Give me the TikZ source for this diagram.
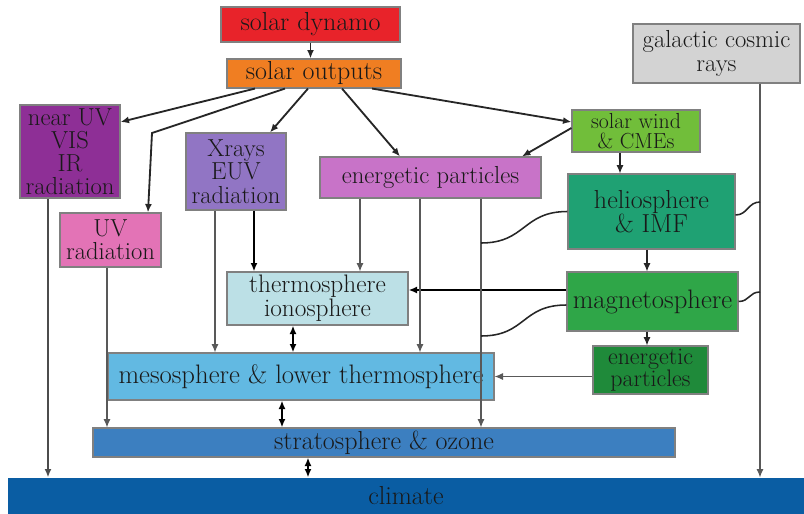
\documentclass[tikz,border=0pt]{standalone}
\usepackage{fontspec}
\usetikzlibrary{arrows.meta}

% box fills
\definecolor{dynamored}{HTML}{E8232A}
\definecolor{outorange}{HTML}{F07E22}
\definecolor{nuvpurple}{HTML}{8E2F96}
\definecolor{uvpink}{HTML}{E373B6}
\definecolor{xraylilac}{HTML}{9175C4}
\definecolor{epmauve}{HTML}{C873C8}
\definecolor{windgreen}{HTML}{71BE3A}
\definecolor{gcrgray}{HTML}{D3D3D3}
\definecolor{heliogreen}{HTML}{1FA173}
\definecolor{thermocyan}{HTML}{BCE0E6}
\definecolor{magnetogreen}{HTML}{2FA648}
\definecolor{epgreen}{HTML}{1F8A3A}
\definecolor{mesoblue}{HTML}{62B9E2}
\definecolor{stratoblue}{HTML}{3C7FC0}
\definecolor{climateblue}{HTML}{0A5DA3}

\begin{document}
\begin{tikzpicture}[x=0.025cm,y=-0.025cm,>={Latex[length=6pt,width=5pt]},
    box/.style={rectangle,draw=black!50,line width=0.8pt,inner sep=0pt,align=center,
      text=black!90,font=\fontsize{18.5}{16}\selectfont},
    lines/.style={font=\fontsize{17.5}{16.5}\selectfont},
    dims/.style 2 args={minimum width=#1*0.025cm,minimum height=#2*0.025cm},
    flow/.style={->,line width=1.3pt,black!85},
    feed/.style={->,line width=0.8pt,black!65},
    heavy/.style={->,line width=1.7pt,black},
    both/.style={<->,line width=1.6pt,black},
    wiggle/.style={line width=1.1pt,black!85}]
    \useasboundingbox (0,0) rectangle (804,514);
    % sun and its outputs
    \node[box,fill=dynamored,dims={179}{35}] (dynamo) at (310.5,24.5) {solar dynamo};
    \node[box,fill=outorange,dims={174}{29}] (outputs) at (314,73.5) {solar outputs};
    \node[box,lines,fill=nuvpurple,dims={100}{93}] (nearuv) at (70,151.5) {near UV\\VIS\\IR\\radiation};
    \node[box,lines,fill=uvpink,dims={101}{54}] (uv) at (110.5,240) {UV\\radiation};
    \node[box,lines,fill=xraylilac,dims={100}{77}] (xrays) at (236,171.5) {Xrays\\EUV\\radiation};
    \node[box,fill=epmauve,dims={221}{41},font=\fontsize{17.5}{16}\selectfont] (eptop) at (430.5,177.5) {energetic particles};
    \node[box,fill=windgreen,dims={128}{42},font=\fontsize{15.5}{14.5}\selectfont] (wind) at (636,131) {solar wind\\\& CMEs};
    \node[box,lines,fill=gcrgray,dims={167}{59}] (gcr) at (716.5,53.5) {galactic cosmic\\rays};
    % near-earth space
    \node[box,lines,fill=heliogreen,dims={167}{75},font=\fontsize{18.5}{17.5}\selectfont] (helio) at (651.5,211.5) {heliosphere\\\& IMF};
    \node[box,fill=magnetogreen,dims={171}{59},font=\fontsize{19}{16}\selectfont] (magneto) at (652.5,301.5) {magnetosphere};
    \node[box,fill=epgreen,dims={115}{48},font=\fontsize{17}{16}\selectfont] (eplow) at (650.5,370) {energetic\\particles};
    % atmosphere layers
    \node[box,fill=thermocyan,dims={181}{53},font=\fontsize{18}{17}\selectfont] (thermo) at (317.5,298.5) {thermosphere\\ionosphere};
    \node[box,fill=mesoblue,dims={386}{47},font=\fontsize{19}{16}\selectfont] (meso) at (301,376.5) {mesosphere \& lower thermosphere};
    \node[box,fill=stratoblue,dims={582}{29}] (strato) at (384,442.5) {stratosphere \& ozone};
    \node[box,fill=climateblue,draw=none,dims={796}{36}] (climate) at (406,496) {climate};

    % taps on the boxes
    \coordinate (uvbend) at (152,133);
    \coordinate (nuvtap) at ([shift={(-22,0)}]nearuv.south);
    \coordinate (uvtap) at ([shift={(-3.5,0)}]uv.south);
    \coordinate (xtapa) at ([shift={(-21,0)}]xrays.south);
    \coordinate (xtapb) at ([shift={(18,0)}]xrays.south);
    \coordinate (eptapa) at ([shift={(-70.5,0)}]eptop.south);
    \coordinate (eptapb) at ([shift={(-10.5,0)}]eptop.south);
    \coordinate (eptapc) at ([shift={(50.5,0)}]eptop.south);
    \coordinate (gcrtap) at ([shift={(43.5,0)}]gcr.south);
    \coordinate (magin) at ([shift={(0,-11.5)}]magneto.west);
    \coordinate (heliojoin) at (481,243);
    \coordinate (magjoin) at (481,336);
    \coordinate (gcrhelio) at (760,202);
    \coordinate (gcrmag) at (760,292);

    % arrows from the sun
    \draw[flow] (dynamo.south) -- (dynamo.south |- outputs.north);
    \draw[flow] ([shift={(-59,0)}]outputs.south) -- ([shift={(0,-29.5)}]nearuv.east);
    \draw[flow] ([shift={(-29,0)}]outputs.south) -- (uvbend) -- ([shift={(37.5,0)}]uv.north);
    \draw[flow] ([shift={(-6,0)}]outputs.south) -- ([shift={(34,0)}]xrays.north);
    \draw[flow] ([shift={(28,0)}]outputs.south) -- ([shift={(-30.5,0)}]eptop.north);
    \draw[flow] ([shift={(58,0)}]outputs.south) -- ([shift={(0,-9)}]wind.west);
    \draw[flow] ([shift={(0,-3)}]wind.west) -- ([shift={(91.5,0)}]eptop.north);
    \draw[feed,black!85] ([shift={(-16,0)}]wind.south) -- ([shift={(-16,0)}]wind.south |- helio.north);
    \draw[feed,black!85] ([shift={(-4.5,0)}]helio.south) -- ([shift={(-4.5,0)}]helio.south |- magneto.north);
    \draw[feed,black!85] ([shift={(-5.5,0)}]magneto.south) -- ([shift={(-5.5,0)}]magneto.south |- eplow.north);
    \draw[heavy] (magin) -- (thermo.east |- magin);
    \draw[feed] (eplow.west |- meso.east) -- (meso.east);

    % down into the atmosphere
    \draw[flow,black!70] (nuvtap) -- (nuvtap |- climate.north);
    \draw[feed] (uvtap) -- (uvtap |- strato.north);
    \draw[feed] (xtapa) -- (xtapa |- meso.north);
    \draw[heavy] (xtapb) -- (xtapb |- thermo.north);
    \draw[feed] (eptapa) -- (eptapa |- thermo.north);
    \draw[feed] (eptapb) -- (eptapb |- meso.north);
    \draw[feed] (eptapc) -- (eptapc |- strato.north);
    \draw[feed] (gcrtap) -- (gcrtap |- climate.north);

    % coupling between layers
    \draw[both] ([shift={(-24.5,0)}]thermo.south) -- ([shift={(-24.5,0)}]thermo.south |- meso.north);
    \draw[both] ([shift={(-19,0)}]meso.south) -- ([shift={(-19,0)}]meso.south |- strato.north);
    \draw[both] ([shift={(-76,0)}]strato.south) -- ([shift={(-76,0)}]strato.south |- climate.north);

    % field links
    \draw[wiggle] (helio.west) .. controls +(-45,0) and +(45,0) .. (heliojoin);
    \draw[wiggle] ([shift={(0,3.5)}]magneto.west) .. controls +(-45,0) and +(45,0) .. (magjoin);
    \draw[wiggle] ([shift={(0,3.5)}]helio.east) .. controls +(12,0) and +(-12,0) .. (gcrhelio);
    \draw[wiggle] (magneto.east) .. controls +(11,0) and +(-11,0) .. (gcrmag);
  \end{tikzpicture}
\end{document}
